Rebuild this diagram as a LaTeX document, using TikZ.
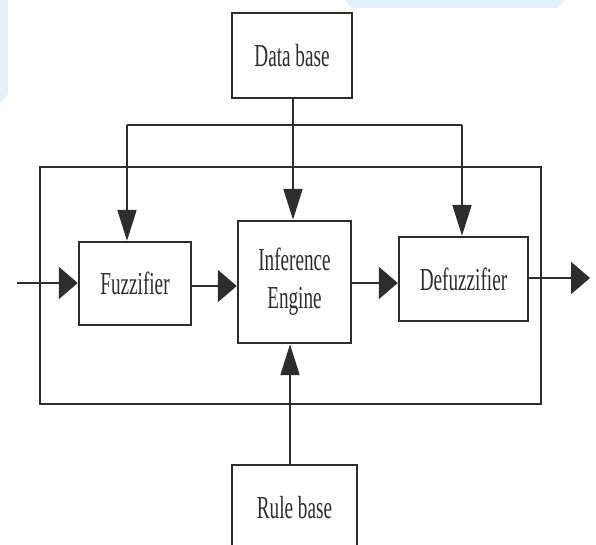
\documentclass[tikz,border=0pt]{standalone}
\usepackage{fontspec}
\setmainfont{Liberation Serif}[FakeStretch=0.6]
\usetikzlibrary{arrows.meta}
\definecolor{ink}{RGB}{45,45,45}
\definecolor{wash}{RGB}{226,241,251}
\begin{document}
\begin{tikzpicture}[x=1pt,y=1pt,
  block/.style={draw=ink,line width=2.4pt,fill=white,inner sep=0pt,
    font=\fontsize{32}{38}\selectfont,text=ink,align=center},
  link/.style={draw=ink,line width=2pt},
  harr/.style={link,-{Triangle[length=19pt,width=32pt]}},
  varr/.style={link,-{Triangle[length=31pt,width=19pt]}}]
\useasboundingbox (0,0) rectangle (596,544);
% faint background wash along the top and left edges
\fill[wash] (345,544) -- (565,544) -- (558,536) -- (352,536) -- cycle;
\fill[wash] (0,544) -- (8,544) -- (8,450) -- (0,440) -- cycle;

% system frame
\coordinate (frameSW) at (40,140);
\coordinate (frameNE) at (541,377);
\draw[link,line width=2.4pt] (frameSW) rectangle (frameNE);

% blocks
\node[block,minimum width=120pt,minimum height=85pt] (db) at (292,488.5) {Data base};
\node[block,minimum width=112pt,minimum height=83pt] (fuz) at (135,260.5) {Fuzzifier};
\node[block,minimum width=113pt,minimum height=122pt] (inf) at (294.5,262) {Inference\\Engine};
\node[block,minimum width=129pt,minimum height=84pt] (defuz) at (463.5,265) {Defuzzifier};
\node[block,minimum width=125pt,minimum height=85pt] (rb) at (294.5,36.5) {Rule base};

% data base distribution bus
\coordinate (busL) at (127,419);
\coordinate (busM) at (293,419);
\coordinate (busR) at (462,419);
\draw[link] (db.south -| busM) -- (busM);
\draw[link] (busL) -- (busR);
\draw[varr] (busL) -- (busL |- fuz.north);
\draw[varr] (busM) -- (busM |- inf.north);
\draw[varr] (busR) -- (busR |- defuz.north);

% signal path
\coordinate (in) at (17,261);
\coordinate (out) at (590,266);
\draw[harr] (in) -- (in -| fuz.west);
\draw[harr] (fuz.east |- 0,258) -- (inf.west |- 0,258);
\draw[harr] (inf.east |- 0,261) -- (defuz.west |- 0,261);
\draw[harr] (defuz.east |- out) -- (out);

% rule base feed
\coordinate (rbtop) at (290,79);
\draw[varr] (rbtop) -- (rbtop |- inf.south);
\end{tikzpicture}
\end{document}
